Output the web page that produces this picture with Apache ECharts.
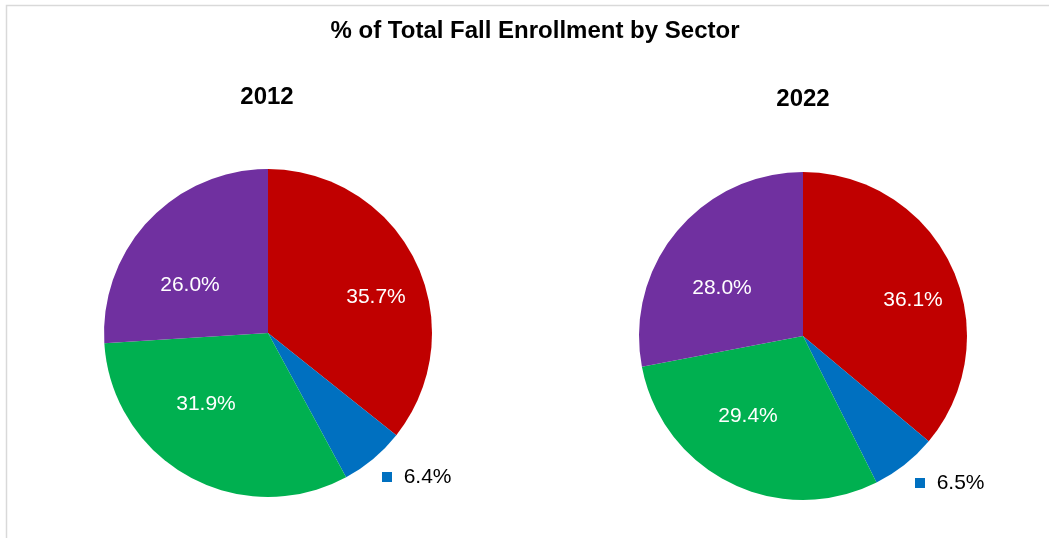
<!DOCTYPE html>
<html>
<head>
<meta charset="utf-8">
<script src="https://cdn.jsdelivr.net/npm/echarts@6/dist/echarts.min.js"></script>
<style>
html,body{margin:0;padding:0;background:#fff;}
#chart{width:1049px;height:538px;}
</style>
</head>
<body>
<div id="chart"></div>
<script>
const chartTitle = '% of Total Fall Enrollment by Sector';
const years = ['2012', '2022'];
const sectors = ['Sector A', 'Sector B', 'Sector C', 'Sector D'];
const colors = ['#C00000', '#0070C0', '#00B050', '#7030A0'];
const values2012 = [35.7, 6.4, 31.9, 26.0];
const values2022 = [36.1, 6.5, 29.4, 28.0];

const pieCenters = [[268, 333], [803, 336]];
const pieRadius = 164;
// label offsets from pie centre (layout only)
const labelOffsets = [
  [[108, -36], [114, 144], [-62, 71], [-78, -48]],
  [[110, -36], [112, 147], [-55, 80], [-81, -48]]
];

const chart = echarts.init(document.getElementById('chart'));
const font = "'Liberation Sans', Arial, sans-serif";

function makeSeries(vals, idx) {
  return {
    type: 'pie',
    center: pieCenters[idx],
    radius: pieRadius,
    startAngle: 90,
    clockwise: true,
    silent: true,
    animation: false,
    itemStyle: { borderWidth: 0 },
    labelLine: { show: false },
    label: {
      show: true,
      position: 'inside',
      fontFamily: font,
      fontSize: 21,
      color: '#fff',
      formatter: p => p.value.toFixed(1) + '%'
    },
    labelLayout: function (params) {
      const o = labelOffsets[idx][params.dataIndex];
      const c = pieCenters[idx];
      if (params.dataIndex === 1) {
        return { x: c[0] + o[0], y: c[1] + o[1], align: 'left', verticalAlign: 'middle' };
      }
      return { x: c[0] + o[0], y: c[1] + o[1], align: 'center', verticalAlign: 'middle' };
    },
    data: vals.map((v, i) => {
      const d = { name: sectors[i], value: v, itemStyle: { color: colors[i] } };
      if (i === 1) {
        d.label = {
          color: '#000',
          formatter: p => '{sq|}  ' + p.value.toFixed(1) + '%',
          rich: {
            sq: { width: 10, height: 10, backgroundColor: colors[1] }
          }
        };
      }
      return d;
    })
  };
}

const titleStyle = { fontFamily: font, fontSize: 24, fontWeight: 'bold', color: '#000' };

chart.setOption({
  backgroundColor: '#fff',
  title: [
    { text: chartTitle, left: 535, top: 19, padding: 0, textAlign: 'center', textStyle: titleStyle },
    { text: years[0], left: 267, top: 85, padding: 0, textAlign: 'center', textStyle: titleStyle },
    { text: years[1], left: 803, top: 87, padding: 0, textAlign: 'center', textStyle: titleStyle }
  ],
  graphic: [
    { type: 'rect', silent: true, shape: { x: 6.5, y: 5.5, width: 1200, height: 700 },
      style: { fill: null, stroke: '#D9D9D9', lineWidth: 1.5 } }
  ],
  series: [makeSeries(values2012, 0), makeSeries(values2022, 1)]
});
</script>
</body>
</html>
